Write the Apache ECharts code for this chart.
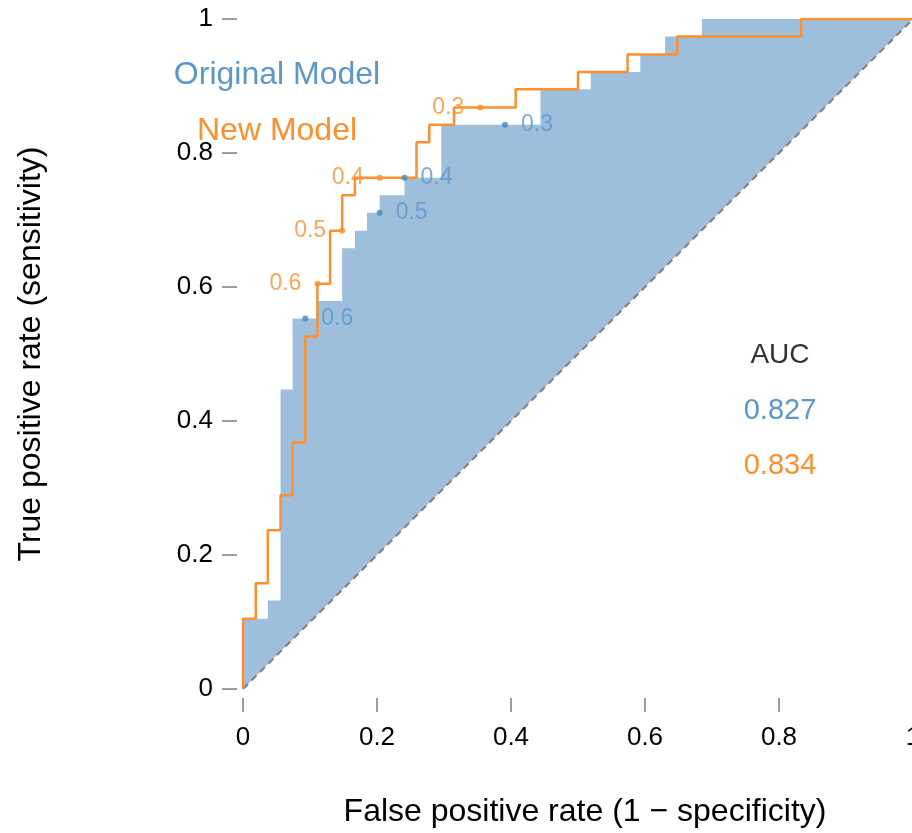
<!DOCTYPE html>
<html>
<head>
<meta charset="utf-8">
<script src="https://cdn.jsdelivr.net/npm/echarts@6/dist/echarts.min.js"></script>
<style>
html,body{margin:0;padding:0;background:#fff;}
#chart{width:912px;height:833px;}
</style>
</head>
<body>
<div id="chart"></div>
<script>
// Original model ROC corners (false positive rate, true positive rate)
var origFpr = [0, 0, 0.037, 0.037, 0.056, 0.056, 0.074, 0.074, 0.111, 0.111, 0.148, 0.148, 0.167, 0.167, 0.185, 0.185, 0.204, 0.204, 0.241, 0.241, 0.296, 0.296, 0.444, 0.444, 0.519, 0.519, 0.593, 0.593, 0.630, 0.630, 0.685, 0.685, 1];
var origTpr = [0, 0.105, 0.105, 0.132, 0.132, 0.447, 0.447, 0.553, 0.553, 0.579, 0.579, 0.658, 0.658, 0.684, 0.684, 0.711, 0.711, 0.737, 0.737, 0.763, 0.763, 0.842, 0.842, 0.895, 0.895, 0.921, 0.921, 0.947, 0.947, 0.974, 0.974, 1, 1];
// New model ROC corners
var newFpr = [0, 0, 0.019, 0.019, 0.037, 0.037, 0.056, 0.056, 0.074, 0.074, 0.093, 0.093, 0.111, 0.111, 0.130, 0.130, 0.148, 0.148, 0.167, 0.167, 0.259, 0.259, 0.278, 0.278, 0.315, 0.315, 0.407, 0.407, 0.5, 0.5, 0.574, 0.574, 0.648, 0.648, 0.833, 0.833, 1];
var newTpr = [0, 0.105, 0.105, 0.158, 0.158, 0.237, 0.237, 0.289, 0.289, 0.368, 0.368, 0.526, 0.526, 0.605, 0.605, 0.684, 0.684, 0.737, 0.737, 0.763, 0.763, 0.816, 0.816, 0.842, 0.842, 0.868, 0.868, 0.895, 0.895, 0.921, 0.921, 0.947, 0.947, 0.974, 0.974, 1, 1];
// Threshold markers
var thrLabels = ['0.6', '0.5', '0.4', '0.3'];
var origThrFpr = [0.093, 0.204, 0.241, 0.391];
var origThrTpr = [0.553, 0.711, 0.763, 0.842];
var newThrFpr = [0.111, 0.148, 0.204, 0.354];
var newThrTpr = [0.605, 0.684, 0.763, 0.868];
// AUC values
var aucOrig = '0.827';
var aucNew = '0.834';
// Axis tick positions
var xTicks = [0, 0.2, 0.4, 0.6, 0.8, 1];
var yTicks = [0, 0.2, 0.4, 0.6, 0.8, 1];

var BLUE_FILL = '#9dbfdb';
var BLUE = '#5b97cb';
var BLUE_DOT = '#4a86bd';
var ORANGE = '#fd8f2c';
var TICK = '#3a3a3a';
var FONT = 'Liberation Sans, Arial, Helvetica, sans-serif';

function pairs(xs, ys) { return xs.map(function (x, i) { return [x, ys[i]]; }); }

var chart = echarts.init(document.getElementById('chart'), null, {renderer: 'canvas'});
var option = {
  animation: false,
  backgroundColor: '#ffffff',
  grid: {left: 243, top: 19, width: 670, height: 670, containLabel: false, outerBoundsMode: 'none'},
  xAxis: {
    type: 'value', min: 0, max: 1, interval: 0.2, offset: 9,
    axisLine: {show: false},
    axisTick: {show: false},
    splitLine: {show: false},
    axisLabel: {color: '#000', fontSize: 26, fontFamily: FONT, margin: 27},
    name: 'False positive rate (1 \u2212 specificity)',
    nameLocation: 'middle', nameGap: 98,
    nameTextStyle: {color: '#000', fontSize: 32, fontFamily: FONT, padding: [0, 0, 0, 14]}
  },
  yAxis: {
    type: 'value', min: 0, max: 1, interval: 0.2, offset: 6,
    axisLine: {show: false},
    axisTick: {show: false},
    splitLine: {show: false},
    axisLabel: {color: '#000', fontSize: 26, fontFamily: FONT, margin: 24},
    name: 'True positive rate (sensitivity)',
    nameLocation: 'middle', nameGap: 190, nameRotate: 90,
    nameTextStyle: {color: '#000', fontSize: 32, fontFamily: FONT}
  },
  series: [
    {
      type: 'custom', name: 'Original Model area',
      data: pairs(origFpr, origTpr),
      z: 1, silent: true,
      renderItem: function (params, api) {
        if (params.dataIndex !== 0) return null;
        var pts = origFpr.map(function (x, i) { return api.coord([x, origTpr[i]]); });
        return {type: 'polygon', shape: {points: pts}, style: {fill: BLUE_FILL}};
      }
    },
    {
      type: 'line', name: 'Chance', data: [[0, 0], [1, 1]], z: 2,
      symbol: 'none', silent: true,
      lineStyle: {color: '#7f7f7f', width: 2, type: [7, 5]}
    },
    {
      type: 'line', name: 'New Model', data: pairs(newFpr, newTpr), z: 3,
      symbol: 'none', lineStyle: {color: ORANGE, width: 2.5}
    },
    {
      type: 'scatter', name: 'Original thresholds', z: 4,
      data: origThrFpr.map(function (x, i) { return {value: [x, origThrTpr[i]], name: thrLabels[i]}; }),
      symbolSize: 6, itemStyle: {color: BLUE_DOT},
      label: {show: true, position: 'right', distance: 13, formatter: '{b}', color: BLUE, fontSize: 23, fontFamily: FONT}
    },
    {
      type: 'scatter', name: 'New thresholds', z: 5,
      data: newThrFpr.map(function (x, i) { return {value: [x, newThrTpr[i]], name: thrLabels[i]}; }),
      symbolSize: 6, itemStyle: {color: ORANGE},
      label: {show: true, position: 'left', distance: 13, formatter: '{b}', color: ORANGE, fontSize: 23, fontFamily: FONT}
    },
    {
      type: 'custom', name: 'x ticks', silent: true, clip: false, z: 6,
      data: xTicks.map(function (v) { return [v, 0]; }),
      renderItem: function (params, api) {
        var p = api.coord([api.value(0), 0]);
        return {type: 'line', shape: {x1: p[0], y1: p[1] + 9, x2: p[0], y2: p[1] + 23},
          style: {stroke: TICK, lineWidth: 1}};
      }
    },
    {
      type: 'custom', name: 'y ticks', silent: true, clip: false, z: 6,
      data: yTicks.map(function (v) { return [0, v]; }),
      renderItem: function (params, api) {
        var p = api.coord([0, api.value(1)]);
        return {type: 'line', shape: {x1: p[0] - 6, y1: p[1], x2: p[0] - 21, y2: p[1]},
          style: {stroke: TICK, lineWidth: 1}};
      }
    }
  ],
  graphic: [
    {type: 'text', x: 277, y: 75, style: {text: 'Original Model', fill: BLUE, font: '32px ' + FONT, align: 'center', verticalAlign: 'middle'}},
    {type: 'text', x: 277, y: 131, style: {text: 'New Model', fill: ORANGE, font: '32px ' + FONT, align: 'center', verticalAlign: 'middle'}},
    {type: 'text', x: 780, y: 355, style: {text: 'AUC', fill: '#333333', font: '28px ' + FONT, align: 'center', verticalAlign: 'middle'}},
    {type: 'text', x: 780, y: 411, style: {text: aucOrig, fill: BLUE, font: '29px ' + FONT, align: 'center', verticalAlign: 'middle'}},
    {type: 'text', x: 780, y: 466, style: {text: aucNew, fill: ORANGE, font: '29px ' + FONT, align: 'center', verticalAlign: 'middle'}}
  ]
};
chart.setOption(option);
</script>
</body>
</html>
